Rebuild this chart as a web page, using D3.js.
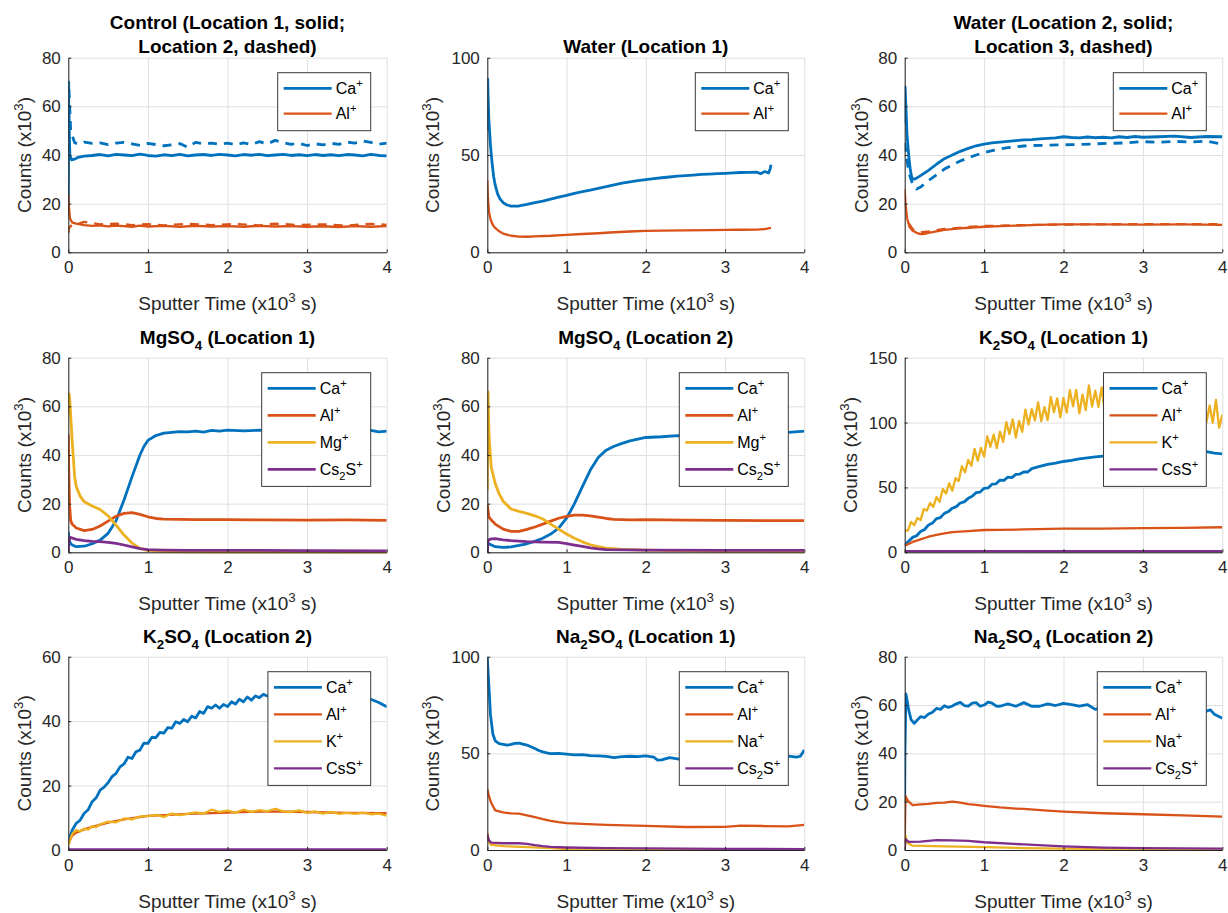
<!DOCTYPE html>
<html>
<head>
<meta charset="utf-8">
<script src="https://cdn.jsdelivr.net/npm/d3@7"></script>
<style>
  body { margin: 0; background: #fff; }
  svg text { font-family: Arial, "Liberation Sans", Helvetica, sans-serif; white-space: pre; }
</style>
</head>
<body>
<div id="viz"></div>
<script>
// ---- data: [sputter time (x10^3 s), counts (x10^3)] ----

// Control, location 1 (solid) and location 2 (dashed)
var ctrlCaSolid = [[0,15],[0.003,45],[0.008,60],[0.012,50],[0.02,40],[0.04,38],[0.08,38.3],[0.12,39],[0.2,39.5],[0.3,39.8],[0.4,40.2],[0.5,39.6],[0.6,40.3],[0.7,40],[0.8,39.7],[0.9,40.4],[1.0,39.8],[1.1,39.5],[1.2,40.1],[1.3,39.7],[1.4,40.3],[1.5,39.6],[1.6,40],[1.7,40.2],[1.8,39.8],[1.9,40.3],[2.0,40],[2.1,39.6],[2.2,40.2],[2.3,39.9],[2.4,40.3],[2.5,39.7],[2.6,40],[2.7,40.3],[2.8,39.8],[2.9,40.1],[3.0,39.7],[3.1,40.2],[3.2,39.8],[3.3,40.1],[3.4,39.7],[3.5,40.2],[3.6,40],[3.7,39.6],[3.8,40.3],[3.9,39.8],[4.0,39.6]];
var ctrlCaDashed = [[0,40],[0.005,70],[0.01,66],[0.03,50],[0.08,45],[0.15,44.5],[0.2,45.3],[0.3,44.8],[0.4,45],[0.5,44.3],[0.6,44.9],[0.7,45.2],[0.8,44.6],[0.9,44],[1.0,44.8],[1.1,44.3],[1.2,43.8],[1.3,44.2],[1.4,44.7],[1.5,43.2],[1.6,45.2],[1.7,44.6],[1.8,44.9],[1.9,44.4],[2.0,44.9],[2.1,44.2],[2.2,45],[2.3,44.3],[2.4,45.5],[2.5,44.6],[2.6,46],[2.7,45.1],[2.8,44.4],[2.9,44.8],[3.0,43.9],[3.1,44.6],[3.2,44.2],[3.3,44.8],[3.4,44.4],[3.5,45.3],[3.6,44.9],[3.7,45.8],[3.8,45.2],[3.9,44.4],[4.0,44.9]];
var ctrlAlSolid = [[0,24],[0.005,20],[0.02,14],[0.05,12.2],[0.1,11.8],[0.2,11.2],[0.3,10.9],[0.4,11.1],[0.5,10.7],[0.6,11],[0.7,10.8],[0.8,10.5],[0.9,11],[1.0,10.6],[1.2,10.9],[1.4,10.5],[1.6,10.9],[1.8,10.6],[2.0,10.8],[2.2,10.5],[2.4,10.9],[2.6,10.6],[2.8,10.8],[3.0,10.5],[3.2,10.7],[3.4,10.4],[3.6,10.8],[3.8,10.5],[4.0,10.8]];
var ctrlAlDashed = [[0,8],[0.01,10],[0.05,11.5],[0.15,12],[0.2,12.5],[0.3,12],[0.4,11.5],[0.6,11.8],[0.8,11.2],[1.0,11.6],[1.2,11.1],[1.5,11.7],[1.8,11.2],[2.1,11.6],[2.4,11.1],[2.6,11.8],[2.9,11.2],[3.2,11.5],[3.5,11],[3.8,11.7],[4.0,11.3]];

// Water, location 1
var w1Ca = [[0,63],[0.005,89],[0.01,80],[0.02,68],[0.04,55],[0.06,46],[0.08,39],[0.1,34.5],[0.13,30],[0.16,27.5],[0.2,25.5],[0.25,24.3],[0.3,23.7],[0.4,23.8],[0.5,24.6],[0.6,25.5],[0.7,26.3],[0.8,27.3],[0.9,28.3],[1.0,29.3],[1.1,30.3],[1.2,31.2],[1.3,32],[1.4,32.9],[1.5,33.7],[1.6,34.6],[1.7,35.5],[1.8,36.2],[1.9,36.8],[2.0,37.4],[2.1,37.9],[2.2,38.3],[2.3,38.7],[2.4,39.1],[2.5,39.4],[2.6,39.7],[2.7,40],[2.8,40.2],[2.9,40.4],[3.0,40.6],[3.1,40.8],[3.2,41],[3.3,41.1],[3.4,41.2],[3.45,40.4],[3.5,41.5],[3.55,40.8],[3.57,43],[3.58,45]];
var w1Al = [[0,37],[0.005,30],[0.02,21],[0.04,17],[0.07,14],[0.1,12.5],[0.15,10.8],[0.2,9.6],[0.3,8.5],[0.4,8.1],[0.5,8],[0.6,8.2],[0.8,8.5],[1.0,9],[1.2,9.4],[1.4,9.8],[1.6,10.3],[1.8,10.7],[2.0,11],[2.2,11.1],[2.5,11.3],[2.8,11.4],[3.0,11.5],[3.2,11.6],[3.4,11.7],[3.5,11.9],[3.58,12.6]];

// Water, location 2 (solid) and location 3 (dashed)
var w2Ca = [[0,53],[0.005,68],[0.015,60],[0.03,48],[0.05,40],[0.07,34],[0.09,30.5],[0.12,30],[0.15,30.5],[0.2,31.5],[0.3,33.7],[0.4,36.2],[0.5,38.5],[0.6,40],[0.7,41.5],[0.8,42.7],[0.9,43.8],[1.0,44.5],[1.1,45],[1.2,45.3],[1.3,45.6],[1.4,45.9],[1.5,46.2],[1.6,46.3],[1.7,46.6],[1.8,46.8],[1.9,47],[2.0,47.5],[2.1,47.2],[2.2,47],[2.3,47.4],[2.4,47.1],[2.5,47.3],[2.6,47],[2.7,47.5],[2.8,47.2],[2.9,47.6],[3.0,47.3],[3.2,47.5],[3.4,47.8],[3.6,47.2],[3.8,47.6],[4.0,47.5]];
var w3Ca = [[0,45],[0.05,33],[0.1,28],[0.15,26],[0.2,26.8],[0.3,29.5],[0.4,31.8],[0.5,34.2],[0.6,35.9],[0.7,37.5],[0.8,38.9],[0.9,40],[1.0,41],[1.1,41.8],[1.2,42.5],[1.3,43],[1.4,43.4],[1.5,43.7],[1.6,43.9],[1.8,44],[2.0,44.2],[2.2,44.3],[2.4,44.6],[2.6,44.8],[2.8,45],[3.0,45.5],[3.2,45.2],[3.4,45.6],[3.6,45.3],[3.8,45.7],[4.0,44.5]];
var w2Al = [[0,26],[0.01,20],[0.03,14],[0.06,10.5],[0.1,8.9],[0.15,8],[0.2,7.5],[0.25,7.6],[0.3,8],[0.4,8.6],[0.5,9.2],[0.6,9.5],[0.7,9.8],[0.8,10.1],[0.9,10.3],[1.0,10.5],[1.2,10.8],[1.4,11],[1.6,11.2],[1.8,11.4],[2.0,11.5],[2.5,11.5],[3.0,11.4],[3.5,11.5],[4.0,11.3]];
var w3Al = [[0.05,12],[0.1,9.5],[0.2,8.2],[0.3,8.6],[0.5,9.6],[0.8,10.4],[1.0,10.8],[1.5,11.2],[2.0,11.4],[3.0,11.6],[4.0,11.6]];

// MgSO4, location 1
var m1Ca = [[0,8.5],[0.01,5],[0.03,3.5],[0.05,3],[0.1,2.3],[0.2,2.5],[0.3,3.5],[0.4,5],[0.5,7.8],[0.6,13],[0.7,21.5],[0.8,31],[0.9,40],[0.95,43.5],[1.0,46],[1.1,48],[1.2,49],[1.3,49.3],[1.4,49.6],[1.5,49.5],[1.6,49.8],[1.7,49.4],[1.8,50.1],[1.9,49.8],[2.0,50.2],[2.2,49.9],[2.4,50.2],[2.6,49.8],[2.8,50.1],[3.0,49.9],[3.2,50.2],[3.4,49.8],[3.6,50],[3.8,50.1],[3.9,49.5],[4.0,49.8]];
var m1Al = [[0,48.5],[0.005,35],[0.015,20],[0.03,13],[0.05,11.5],[0.1,10],[0.2,8.9],[0.3,9.4],[0.4,10.8],[0.5,12.8],[0.6,14.8],[0.7,16],[0.8,16.3],[0.9,15.6],[1.0,14.6],[1.1,13.9],[1.2,13.6],[1.4,13.5],[1.6,13.4],[2.0,13.4],[2.5,13.3],[3.0,13.2],[3.5,13.3],[4.0,13.1]];
var m1Mg = [[0,57],[0.01,65],[0.02,62],[0.05,45],[0.08,31],[0.1,27],[0.15,23],[0.2,20.8],[0.3,19],[0.4,17.6],[0.5,15],[0.6,11.2],[0.7,7.1],[0.8,3.8],[0.9,1.6],[1.0,0.7],[1.2,0.3],[1.5,0.2],[2.0,0.1],[3.0,0.1],[4.0,0.1]];
var m1Cs2S = [[0,0],[0.005,4],[0.02,6.2],[0.1,5.3],[0.2,4.8],[0.3,4.5],[0.4,4.4],[0.5,4.1],[0.6,3.7],[0.7,3],[0.8,2.2],[0.9,1.5],[1.0,1.1],[1.2,0.9],[1.5,0.8],[2.0,0.8],[3.0,0.7],[4.0,0.6]];

// MgSO4, location 2
var m2Ca = [[0,3],[0.02,3.5],[0.1,2.3],[0.2,2],[0.3,2.2],[0.4,2.8],[0.5,3.5],[0.6,4.5],[0.7,5.8],[0.8,7.5],[0.9,9.9],[1.0,14],[1.1,20],[1.2,27],[1.3,33.8],[1.4,39],[1.5,42],[1.6,43.6],[1.7,44.8],[1.8,45.8],[1.9,46.5],[2.0,47.2],[2.2,47.5],[2.4,48],[2.6,47.8],[2.8,48.3],[3.0,48.5],[3.2,48.6],[3.4,48.9],[3.6,49.1],[3.8,49.3],[4.0,49.8]];
var m2Al = [[0,19.7],[0.02,14.5],[0.05,13.3],[0.1,11.6],[0.2,9.5],[0.3,8.6],[0.4,8.6],[0.5,9.4],[0.6,10.4],[0.7,11.6],[0.8,12.8],[0.9,14],[1.0,14.8],[1.1,15.3],[1.2,15.3],[1.3,15],[1.4,14.5],[1.5,13.9],[1.6,13.5],[1.8,13.3],[2.0,13.4],[2.5,13.2],[3.0,13.1],[3.5,13],[4.0,13]];
var m2Mg = [[0,25.5],[0.008,66],[0.02,50],[0.03,44],[0.05,35],[0.1,28.3],[0.15,24],[0.2,21],[0.3,17.8],[0.4,16.8],[0.5,16],[0.6,15],[0.7,13.7],[0.8,11.6],[0.9,9.5],[1.0,7.5],[1.1,5.8],[1.2,4.3],[1.3,3.1],[1.4,2.3],[1.5,1.7],[1.7,1.2],[2.0,0.9],[2.5,0.6],[3.0,0.4],[4.0,0.3]];
var m2Cs2S = [[0,0],[0.01,5],[0.05,5.5],[0.1,5.6],[0.2,5.1],[0.3,4.8],[0.5,4.4],[0.7,4.2],[0.9,4.1],[1.0,3.6],[1.1,3],[1.2,2.4],[1.3,1.8],[1.4,1.4],[1.5,1.1],[2.0,0.9],[3.0,0.8],[4.0,0.8]];

// K2SO4, location 1
var k1Ca = [[0,5.6],[0.1,11.5],[0.15,12.8],[0.2,16],[0.25,17.6],[0.3,21],[0.35,22.5],[0.4,26],[0.45,26.8],[0.5,30],[0.55,31.4],[0.6,34],[0.65,35.2],[0.7,38],[0.75,38.9],[0.8,41.6],[0.85,43.2],[0.9,46],[0.95,46.4],[1.0,49.3],[1.05,49.6],[1.1,52.5],[1.15,52.8],[1.2,55.7],[1.25,55.4],[1.3,58],[1.35,57.6],[1.4,60],[1.45,60.3],[1.5,62],[1.55,61.9],[1.6,64.5],[1.7,66.3],[1.8,67.8],[1.9,68.8],[2.0,70],[2.1,70.8],[2.2,72],[2.3,72.8],[2.4,73.5],[2.5,74.2],[2.6,74.8],[2.7,75.3],[2.8,75.7],[2.9,76],[3.0,76.2],[3.2,76.6],[3.4,77],[3.6,77.2],[3.8,77.6],[3.9,76.5],[4.0,75.8]];
var k1Al = [[0,5],[0.1,8],[0.2,10],[0.3,12],[0.4,13.4],[0.5,14.5],[0.6,15.5],[0.8,16.4],[1.0,17.2],[1.2,17.3],[1.5,17.6],[2.0,18.2],[2.5,18.3],[3.0,18.6],[3.5,18.8],[4.0,19.3]];
var k1K = [[0,16.8],[0.04,16.7],[0.08,23.5],[0.12,20.8],[0.16,26.4],[0.2,24.8],[0.24,33.3],[0.28,32.2],[0.32,38.1],[0.36,35],[0.4,42.5],[0.44,39],[0.48,48.8],[0.52,45.2],[0.56,53.2],[0.6,47.5],[0.64,57.2],[0.68,54.9],[0.72,66.4],[0.76,61.7],[0.8,71.2],[0.84,66.7],[0.88,79.7],[0.92,70.6],[0.96,80.5],[1.0,73.7],[1.04,89.4],[1.08,81.4],[1.12,90.7],[1.16,80.3],[1.2,93],[1.24,85.1],[1.28,100.3],[1.32,91.1],[1.36,102.5],[1.4,88.4],[1.44,101.3],[1.48,92.9],[1.52,110],[1.56,98.5],[1.6,110.4],[1.64,101.7],[1.68,115.5],[1.72,101.2],[1.76,111.9],[1.8,101.9],[1.84,119.8],[1.88,108],[1.92,118.7],[1.96,104.1],[2.0,119],[2.04,107.7],[2.08,125],[2.12,112.5],[2.16,125.2],[2.2,107.1],[2.24,121.6],[2.28,109.7],[2.32,128.6],[2.36,112.3],[2.4,124.6],[2.44,112.1],[2.48,127.1],[2.52,108],[2.56,119.7],[2.6,106.1],[2.64,126.6],[2.68,110.8],[2.72,122.5],[2.76,103.4],[2.8,119.5],[2.84,107.2],[2.88,123.5],[2.92,110.1],[2.96,122],[3.0,103.1],[3.04,117.6],[3.08,105.7],[3.12,124.6],[3.16,108.3],[3.2,120.6],[3.24,108.7],[3.28,124.3],[3.32,105.8],[3.36,118.1],[3.4,105.1],[3.44,126],[3.48,110.6],[3.52,122.5],[3.56,103.4],[3.6,119.5],[3.64,106.6],[3.68,122.3],[3.72,108.3],[3.76,119.6],[3.8,100.1],[3.84,113.2],[3.88,99.9],[3.92,117.4],[3.96,96],[4.0,106]];
var k1CsS = [[0,0.8],[1,0.9],[2,0.8],[3,0.8],[4,0.8]];

// K2SO4, location 2
var k2Ca = [[0,2.6],[0.05,6.2],[0.1,8.3],[0.15,9.3],[0.2,11.4],[0.25,12.5],[0.3,15],[0.35,16.2],[0.4,18.6],[0.45,19.5],[0.5,20.9],[0.55,22.8],[0.6,23.8],[0.65,25.8],[0.7,26.7],[0.75,28.8],[0.8,28.4],[0.85,30.5],[0.9,31],[0.95,33.2],[1.0,33.1],[1.05,35],[1.1,34.9],[1.15,36.5],[1.2,36.3],[1.25,38],[1.3,37.8],[1.35,39.8],[1.4,39.3],[1.45,40.5],[1.5,39.8],[1.55,41.5],[1.6,41],[1.65,43],[1.7,42.4],[1.75,44.5],[1.8,44],[1.85,45],[1.9,44],[1.95,45.2],[2.0,44.5],[2.05,46],[2.1,45.3],[2.15,46.8],[2.2,46],[2.25,47.5],[2.3,46.5],[2.35,47.8],[2.4,47.3],[2.45,48.3],[2.5,47.8],[2.6,47.2],[2.7,48.2],[2.8,48],[3.0,48.3],[3.2,48],[3.4,48.2],[3.6,47.8],[3.7,47.6],[3.8,46.8],[3.9,45.8],[4.0,44.5]];
var k2Al = [[0,2],[0.05,4.5],[0.1,5.4],[0.2,6.4],[0.3,7.2],[0.5,8.5],[0.7,9.5],[1.0,10.6],[1.2,10.8],[1.5,11.2],[2.0,11.6],[2.5,12],[3.0,11.8],[3.5,11.5],[4.0,11.4]];
var k2K = [[0,1.5],[0.05,5],[0.1,6.2],[0.15,5.8],[0.2,6.6],[0.25,6.3],[0.3,7.4],[0.35,7.1],[0.4,8],[0.5,8.8],[0.6,8.6],[0.7,9.8],[0.8,9.5],[0.9,10.4],[1.0,10.5],[1.1,10.9],[1.2,10.3],[1.3,11.3],[1.4,10.8],[1.5,11.2],[1.6,11.7],[1.7,11.3],[1.8,12.5],[1.9,11.8],[2.0,12.2],[2.1,11.6],[2.2,12.5],[2.3,11.8],[2.4,12.4],[2.5,12],[2.6,12.8],[2.7,12],[2.8,11.8],[2.9,12.3],[3.0,11.5],[3.1,12],[3.2,11.3],[3.3,11.8],[3.4,11.2],[3.5,11.5],[3.6,11.2],[3.7,11.6],[3.8,11.1],[3.9,11.3],[4.0,10.7]];
var k2CsS = [[0,0.2],[2,0.2],[4,0.2]];

// Na2SO4, location 1
var n1Ca = [[0,99.5],[0.01,92],[0.02,85],[0.04,70],[0.07,60],[0.1,56.5],[0.15,55],[0.2,54.6],[0.25,54.2],[0.3,54.6],[0.35,55.2],[0.4,55.3],[0.45,54.8],[0.5,54.3],[0.55,53.4],[0.6,52.5],[0.65,51.5],[0.7,50.8],[0.75,50.2],[0.8,49.9],[0.9,50],[1.0,49.6],[1.1,49.2],[1.2,49.3],[1.3,48.8],[1.4,48.7],[1.5,48.4],[1.6,47.8],[1.7,48.3],[1.8,48.5],[1.9,48.3],[2.0,48.7],[2.1,48],[2.15,46.5],[2.2,46.6],[2.3,47.8],[2.4,47.2],[2.5,46.5],[2.6,47],[2.8,47.3],[3.0,47],[3.2,47.5],[3.4,47.3],[3.6,47.8],[3.8,48.6],[3.9,48],[3.95,48.5],[4.0,51.8]];
var n1Al = [[0,31.5],[0.02,28],[0.05,24.3],[0.1,20.5],[0.2,19.5],[0.3,18.9],[0.4,18.8],[0.5,17.9],[0.6,17],[0.7,16],[0.8,15.1],[0.9,14.4],[1.0,13.9],[1.2,13.5],[1.5,13],[2.0,12.5],[2.5,11.9],[3.0,12],[3.2,12.6],[3.5,12.4],[3.8,12.2],[4.0,13]];
var n1Na = [[0,9],[0.02,4],[0.05,2.6],[0.2,2],[0.5,1.5],[0.8,1],[1.0,0.5],[2.0,0.2],[4.0,0.1]];
var n1Cs2S = [[0,8],[0.02,5],[0.05,3.8],[0.2,3.5],[0.4,3.5],[0.5,3.2],[0.6,2.5],[0.7,2],[0.8,1.6],[1.0,1.3],[1.5,1],[2.0,0.8],[3.0,0.6],[4.0,0.5]];

// Na2SO4, location 2
var n2Ca = [[0,20],[0.003,40],[0.015,64.6],[0.03,62],[0.05,58],[0.08,54],[0.12,52.4],[0.15,53.5],[0.2,55.2],[0.25,54.8],[0.3,56.3],[0.35,57],[0.4,58.6],[0.45,58.2],[0.5,59.7],[0.55,59],[0.6,59.6],[0.65,60.5],[0.7,61.1],[0.75,59.8],[0.8,59.5],[0.85,60.8],[0.9,61],[0.95,59.5],[1.0,60],[1.05,61.2],[1.1,60.8],[1.15,59.6],[1.2,59.5],[1.3,60.5],[1.4,59.5],[1.5,61],[1.6,59.5],[1.7,59.5],[1.8,60.5],[1.9,59.8],[2.0,60.7],[2.1,60.2],[2.2,59.5],[2.3,60.2],[2.4,58.2],[2.5,59],[2.7,59.3],[3.0,59],[3.3,58.5],[3.5,57.8],[3.7,57.8],[3.8,57.5],[3.85,58],[3.9,56.2],[4.0,54.5]];
var n2Al = [[0,3],[0.01,22.3],[0.03,21],[0.05,20],[0.1,18.6],[0.2,18.9],[0.3,19.1],[0.4,19.5],[0.5,19.6],[0.6,20],[0.7,19.6],[0.8,19],[0.9,18.7],[1.0,18.3],[1.2,17.6],[1.4,17.1],[1.5,17],[1.8,16.3],[2.0,15.9],[2.5,15.2],[3.0,14.8],[3.5,14.3],[4.0,13.8]];
var n2Na = [[0,0.5],[0.01,6],[0.03,3],[0.1,1.8],[0.5,1.5],[1.0,1.2],[1.5,0.8],[2.0,0.6],[3.0,0.3],[4.0,0.2]];
var n2Cs2S = [[0,0],[0.01,4.5],[0.05,3.4],[0.2,3.5],[0.4,4.1],[0.6,4],[0.8,3.8],[1.0,3.2],[1.5,2.3],[2.0,1.5],[2.5,1],[3.0,0.8],[4.0,0.6]];

// ticks and labels
var xTicks = [0, 1, 2, 3, 4];
var yTicks80 = [0, 20, 40, 60, 80];
var yTicks60 = [0, 20, 40, 60];
var yTicks100 = [0, 50, 100];
var yTicks150 = [0, 50, 100, 150];
var xLabel = 'Sputter Time (x10^3 s)';
var yLabel = 'Counts (x10^3)';

var colors = ['#0072bd', '#d95319', '#edb120', '#7e2f8e'];

var panels = [
  { title: ['Control (Location 1, solid;', 'Location 2, dashed)'], yTicks: yTicks80,
    series: [[ctrlCaSolid,0,''],[ctrlAlSolid,1,''],[ctrlCaDashed,0,'d'],[ctrlAlDashed,1,'d']],
    legend: ['Ca^+', 'Al^+'] },
  { title: ['Water (Location 1)'], yTicks: yTicks100,
    series: [[w1Ca,0,''],[w1Al,1,'']], legend: ['Ca^+', 'Al^+'] },
  { title: ['Water (Location 2, solid;', 'Location 3, dashed)'], yTicks: yTicks80,
    series: [[w2Ca,0,''],[w2Al,1,''],[w3Ca,0,'d'],[w3Al,1,'d']], legend: ['Ca^+', 'Al^+'] },
  { title: ['MgSO_4 (Location 1)'], yTicks: yTicks80, thick: true,
    series: [[m1Ca,0,''],[m1Al,1,''],[m1Mg,2,''],[m1Cs2S,3,'']], legend: ['Ca^+', 'Al^+', 'Mg^+', 'Cs_2S^+'] },
  { title: ['MgSO_4 (Location 2)'], yTicks: yTicks80, thick: true,
    series: [[m2Ca,0,''],[m2Al,1,''],[m2Mg,2,''],[m2Cs2S,3,'']], legend: ['Ca^+', 'Al^+', 'Mg^+', 'Cs_2S^+'] },
  { title: ['K_2SO_4 (Location 1)'], yTicks: yTicks150,
    series: [[k1Ca,0,''],[k1Al,1,''],[k1K,2,''],[k1CsS,3,'']], legend: ['Ca^+', 'Al^+', 'K^+', 'CsS^+'] },
  { title: ['K_2SO_4 (Location 2)'], yTicks: yTicks60,
    series: [[k2Ca,0,''],[k2Al,1,''],[k2K,2,''],[k2CsS,3,'']], legend: ['Ca^+', 'Al^+', 'K^+', 'CsS^+'] },
  { title: ['Na_2SO_4 (Location 1)'], yTicks: yTicks100,
    series: [[n1Ca,0,''],[n1Al,1,''],[n1Na,2,''],[n1Cs2S,3,'']], legend: ['Ca^+', 'Al^+', 'Na^+', 'Cs_2S^+'] },
  { title: ['Na_2SO_4 (Location 2)'], yTicks: yTicks80,
    series: [[n2Ca,0,''],[n2Al,1,''],[n2Na,2,''],[n2Cs2S,3,'']], legend: ['Ca^+', 'Al^+', 'Na^+', 'Cs_2S^+'] }
];

// axes boxes in the 1228x913 figure
var rowBox = [[57.7, 252.3], [357.7, 552.3], [656.7, 850]];
var colBox = [[68.3, 386.7], [487.3, 804.3], [904.7, 1222.3]];
var ink = '#262626';

var svg = d3.select('#viz').append('svg')
  .attr('width', 1228)
  .attr('height', 913);

// write a string with ^x / _x super/subscripts into a text element
function richText(sel, str, size) {
  var re = /([_^])(\{[^}]*\}|\S)/g, last = 0, m, shift = 0;
  function span(t, kind) {
    var target = kind == 0 ? 0 : (kind < 0 ? -0.42 * size : 0.3 * size);
    sel.append('tspan')
      .attr('dy', target - shift)
      .attr('font-size', kind == 0 ? size : size * 0.7)
      .text(t);
    shift = target;
  }
  while ((m = re.exec(str)) !== null) {
    if (m.index > last) span(str.slice(last, m.index), 0);
    span(m[2].replace(/[{}]/g, ''), m[1] == '^' ? -1 : 1);
    last = re.lastIndex;
  }
  if (last < str.length) span(str.slice(last), 0);
}

panels.forEach(function (p, i) {
  var r = Math.floor(i / 3), c = i % 3;
  var left = colBox[c][0], right = colBox[c][1];
  var top = rowBox[r][0], bottom = rowBox[r][1];
  var w = right - left, h = bottom - top;
  var yMax = p.yTicks[p.yTicks.length - 1];

  var x = d3.scaleLinear().domain([0, 4]).range([0, w]);
  var y = d3.scaleLinear().domain([0, yMax]).range([h, 0]);

  var g = svg.append('g').attr('transform', 'translate(' + left + ',' + top + ')');

  // grid
  g.append('g')
    .attr('transform', 'translate(0,' + h + ')')
    .call(d3.axisBottom(x).tickValues(xTicks).tickSize(-h).tickFormat(''))
    .call(function (s) { s.select('.domain').remove(); s.selectAll('line').attr('stroke', '#dfdfdf'); });
  g.append('g')
    .call(d3.axisLeft(y).tickValues(p.yTicks).tickSize(-w).tickFormat(''))
    .call(function (s) { s.select('.domain').remove(); s.selectAll('line').attr('stroke', '#dfdfdf'); });

  // lines
  g.append('clipPath').attr('id', 'clip' + i)
    .append('rect').attr('x', 0).attr('y', -1).attr('width', w).attr('height', h + 2.5);
  var line = d3.line().x(function (d) { return x(d[0]); }).y(function (d) { return y(d[1]); });
  var plot = g.append('g').attr('clip-path', 'url(#clip' + i + ')');
  p.series.forEach(function (s) {
    plot.append('path')
      .datum(s[0])
      .attr('d', line)
      .attr('fill', 'none')
      .attr('stroke', colors[s[1]])
      .attr('stroke-width', (s[1] == 0 || p.thick) ? 2.8 : 2.3)
      .attr('stroke-linejoin', 'round')
      .attr('stroke-dasharray', s[2] == 'd' ? '9,7' : null);
  });

  // axes
  var fmt = d3.format('d');
  var xAxis = g.append('g')
    .attr('transform', 'translate(0,' + h + ')')
    .call(d3.axisBottom(x).tickValues(xTicks).tickFormat(fmt).tickSize(-3).tickSizeOuter(0).tickPadding(9));
  var yAxis = g.append('g')
    .call(d3.axisLeft(y).tickValues(p.yTicks).tickFormat(fmt).tickSize(-3).tickSizeOuter(0).tickPadding(7.5));
  [xAxis, yAxis].forEach(function (a) {
    a.attr('font-size', 17).attr('font-family', null);
    a.selectAll('text').attr('fill', ink);
    a.selectAll('line').attr('stroke', ink);
    a.select('.domain').attr('stroke', ink);
  });

  // titles and labels
  var cx = w / 2;
  var subTitle = p.title[0].indexOf('_') >= 0;
  p.title.forEach(function (t, k) {
    var base = subTitle ? -13.5 : -5 - 23.4 * (p.title.length - 1 - k);
    var tt = g.append('text')
      .attr('x', cx).attr('y', base)
      .attr('text-anchor', 'middle')
      .attr('font-weight', 'bold')
      .attr('fill', '#000');
    richText(tt, t, 19);
  });

  var xl = g.append('text')
    .attr('x', cx).attr('y', h + 58)
    .attr('text-anchor', 'middle')
    .attr('fill', ink);
  richText(xl, xLabel, 19);

  var digits = String(yMax).length;
  var yl = g.append('text')
    .attr('transform', 'translate(' + (-37 - 11 * (digits - 2)) + ',' + (h / 2) + ') rotate(-90)')
    .attr('text-anchor', 'middle')
    .attr('fill', ink);
  richText(yl, yLabel, 19);

  // legend
  var n = p.legend.length;
  var step = n > 2 ? 27 : 25.3;
  var lg = g.append('g');
  var box = lg.append('rect').attr('fill', '#fff').attr('stroke', '#3a3a3a').attr('stroke-width', 1);
  var maxW = 0;
  p.legend.forEach(function (lab, k) {
    var ly = 15.7 + step * k;
    lg.append('line')
      .attr('x1', 6).attr('x2', 54).attr('y1', ly).attr('y2', ly)
      .attr('stroke', colors[k])
      .attr('stroke-width', (k == 0 || p.thick) ? 2.8 : 2.3);
    var t = lg.append('text').attr('x', 58).attr('y', ly + 5.5).attr('fill', '#000');
    richText(t, lab, 16);
    maxW = Math.max(maxW, t.node().getComputedTextLength());
  });
  var bw = 58 + maxW + 8;
  var bh = 15.7 + step * (n - 1) + 17;
  box.attr('x', 0).attr('y', 0).attr('width', bw).attr('height', bh);
  lg.attr('transform', 'translate(' + (w - 16 - bw) + ',15)');
});
</script>
</body>
</html>
